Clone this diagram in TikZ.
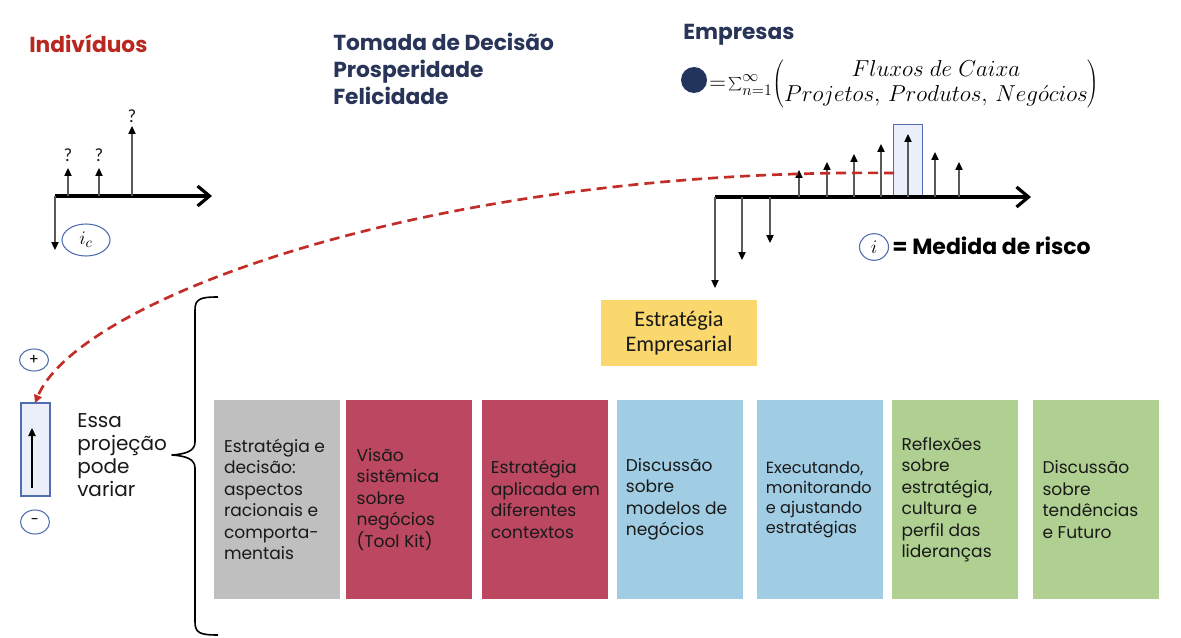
\documentclass[tikz,border=0pt]{standalone}
\usepackage{fontspec}
\usepackage{graphicx}
\setmainfont{Poppins}
\newfontfamily\calib{Carlito}
\usetikzlibrary{arrows.meta,shapes.geometric,calc}
\definecolor{indred}{RGB}{185,40,30}
\definecolor{navy}{RGB}{40,52,88}
\definecolor{dotnavy}{RGB}{35,52,92}
\definecolor{bord}{RGB}{80,110,175}
\definecolor{lfill}{RGB}{234,239,249}
\definecolor{dashred}{RGB}{195,45,40}
\definecolor{yel}{RGB}{250,216,110}
\definecolor{cgray}{RGB}{191,191,191}
\definecolor{crim}{RGB}{187,72,96}
\definecolor{lblue}{RGB}{160,205,228}
\definecolor{lgreen}{RGB}{176,208,146}
\definecolor{txt}{RGB}{25,25,25}
\definecolor{stem}{RGB}{90,90,90}
\begin{document}
\begin{tikzpicture}[x=0.75pt,y=-0.75pt,
  axisline/.style={line width=3pt,-{Straight Barb[length=9pt,width=15pt,line width=2.4pt]}},
  cfarrow/.style={line width=0.8pt,draw=stem,-{Triangle[length=6pt,width=5.5pt,fill=black,color=black]}},
  qmark/.style={font=\calib\fontsize{14}{16}\selectfont,text=txt,inner sep=0pt},
  heading/.style={font=\fontsize{16.3}{20}\selectfont\bfseries,inner sep=0pt,align=left,anchor=west},
  colbox/.style={minimum width=94.5pt,minimum height=149.25pt,inner sep=0pt,draw=none},
  btxt/.style={font=\fontsize{12.8}{16.1}\selectfont,text=txt,align=left,inner sep=0pt,anchor=west},
  ring/.style={ellipse,draw=bord,line width=0.8pt,inner sep=0pt},
  riskbox/.style={draw=bord,line width=0.9pt,fill=lfill,inner sep=0pt}
]
\useasboundingbox (0,0) rectangle (1181,638);
\fill[white] (0,0) rectangle (1181,638);

% headings
\node[heading,text=indred] (hind) at (29,44) {Indivíduos};
\node[heading,text=navy] (htom) at (333,69) {Tomada de Decisão\\Prosperidade\\Felicidade};
\node[heading,text=navy] (hemp) at (683,35) {Empresas};

% formula
\node[circle,fill=dotnavy,minimum size=19.5pt,inner sep=0pt] (dot) at (694,80) {};
\node[anchor=west,inner sep=0pt,font=\fontsize{17.5}{19}\selectfont] (form) at (709,84) {$=\!\sum_{n=1}^{\infty}\!\left(\begin{array}{@{}c@{}}Fluxos\ de\ Caixa\\ Projetos,\,Produtos,\,Neg\acute{o}cios\end{array}\right)$};

% left timeline
\coordinate (la0) at (55,196);
\coordinate (la1) at (212,196);
\draw[axisline] (la0) -- (la1);
\coordinate (ld) at (55,250);
\draw[cfarrow] (la0) -- (ld);
\coordinate (lu1b) at (68,196); \coordinate (lu1t) at (68,168);
\coordinate (lu2b) at (99,196); \coordinate (lu2t) at (99,168);
\coordinate (lu3b) at (132,196); \coordinate (lu3t) at (132,126);
\draw[cfarrow] (lu1b) -- (lu1t);
\draw[cfarrow] (lu2b) -- (lu2t);
\draw[cfarrow] (lu3b) -- (lu3t);
\node[qmark] (q1) at (68,155) {?};
\node[qmark] (q2) at (99,155) {?};
\node[qmark] (q3) at (132,116) {?};
\node[ring,minimum width=36pt,minimum height=24pt,font=\fontsize{15}{16}\selectfont] (ic) at (86,240) {$i_c$};

% right timeline
\node[riskbox,minimum width=21.75pt,minimum height=53pt] (rbox) at (908,160) {};
\coordinate (ra0) at (715,197);
\coordinate (ra1) at (1031,197);
\draw[axisline] (ra0) -- (ra1);
\foreach \x/\y [count=\i] in {715/288,742/260,770/243}{
  \coordinate (rdb\i) at (\x,197); \coordinate (rdt\i) at (\x,\y);
  \draw[cfarrow] (rdb\i) -- (rdt\i);
}
\foreach \x/\y [count=\i] in {799/170,827/162,854/154,881/144,908/134,935/152,959/162}{
  \coordinate (rub\i) at (\x,197); \coordinate (rut\i) at (\x,\y);
  \draw[cfarrow] (rub\i) -- (rut\i);
}
\node[ring,minimum width=21.75pt,minimum height=20pt,font=\fontsize{15}{16}\selectfont] (ri) at (874,247) {$i$};
\node[anchor=west,inner sep=0pt,font=\fontsize{16.5}{18}\selectfont\bfseries,text=black] (risk) at (892,246) {= Medida de risco};

% strategy box
\node[fill=yel,minimum width=117pt,minimum height=49.5pt,inner sep=0pt,align=center,
      font=\calib\fontsize{16.7}{19}\selectfont,text=txt] (estr) at (679,333) {Estratégia\\Empresarial};

% small projection box
\node[riskbox,minimum width=21.75pt,minimum height=69.75pt] (pbox) at (35.5,449.5) {};
\coordinate (pa0) at (32,488); \coordinate (pa1) at (32,428);
\draw[line width=0.8pt,-{Triangle[length=6pt,width=5.5pt]}] (pa0) -- (pa1);
\node[ring,minimum width=21.75pt,minimum height=16.5pt,font=\fontsize{11}{12}\selectfont] (plus) at (34,360) {+};
\node[ring,minimum width=21.75pt,minimum height=18pt,font=\fontsize{11}{12}\selectfont] (minus) at (35,522) {-};
\node[anchor=west,align=left,inner sep=0pt,font=\fontsize{15}{17.3}\selectfont,text=txt] (essa) at (77,455) {Essa\\projeção\\pode\\variar};

% dashed curve
\coordinate (cs) at (894,173);
\coordinate (ce) at (35,403);
\draw[dashred,line width=2pt,dash pattern=on 7.5pt off 4.5pt,-{Triangle[length=6pt,width=6pt]}]
  (cs) .. controls (430,168) and (78,300) .. (ce);

% brace
\coordinate (bt) at (218,297);
\coordinate (bb) at (218,635);
\coordinate (btip) at (172,455);
\draw[line width=1.2pt,line join=round]
  (bt) .. controls (200,297) and (195,299) .. (195,310) -- (195,442)
  .. controls (195,451) and (186,454) .. (btip)
  .. controls (186,456) and (195,459) .. (195,468) -- (195,622)
  .. controls (195,633) and (200,635) .. (bb);

% column boxes
\node[colbox,fill=cgray] (b1) at (277,499.5) {};
\node[colbox,fill=crim] (b2) at (409,499.5) {};
\node[colbox,fill=crim] (b3) at (544.5,499.5) {};
\node[colbox,fill=lblue] (b4) at (679.5,499.5) {};
\node[colbox,fill=lblue] (b5) at (819.5,499.5) {};
\node[colbox,fill=lgreen] (b6) at (954.5,499.5) {};
\node[colbox,fill=lgreen] (b7) at (1095.5,499.5) {};

\node[btxt] (t1) at ([xshift=7.5pt]b1.west) {Estratégia e\\decisão:\\aspectos\\racionais e\\comporta-\\mentais};
\node[btxt] (t2) at ([xshift=8pt]b2.west) {Visão\\sistêmica\\sobre\\negócios\\(Tool Kit)};
\node[btxt] (t3) at ([xshift=7pt]b3.west) {Estratégia\\aplicada em\\diferentes\\contextos};
\node[btxt] (t4) at ([xshift=7pt]b4.west) {Discussão\\sobre\\modelos de\\negócios};
\node[btxt,font=\fontsize{12.1}{15}\selectfont] (t5) at ([xshift=7pt]b5.west) {Executando,\\monitorando\\e ajustando\\estratégias};
\node[btxt] (t6) at ([xshift=7.5pt]b6.west) {Reflexões\\sobre\\estratégia,\\cultura e\\perfil das\\lideranças};
\node[btxt] (t7) at ([xshift=7.5pt]b7.west) {Discussão\\sobre\\tendências\\e Futuro};
\end{tikzpicture}
\end{document}
